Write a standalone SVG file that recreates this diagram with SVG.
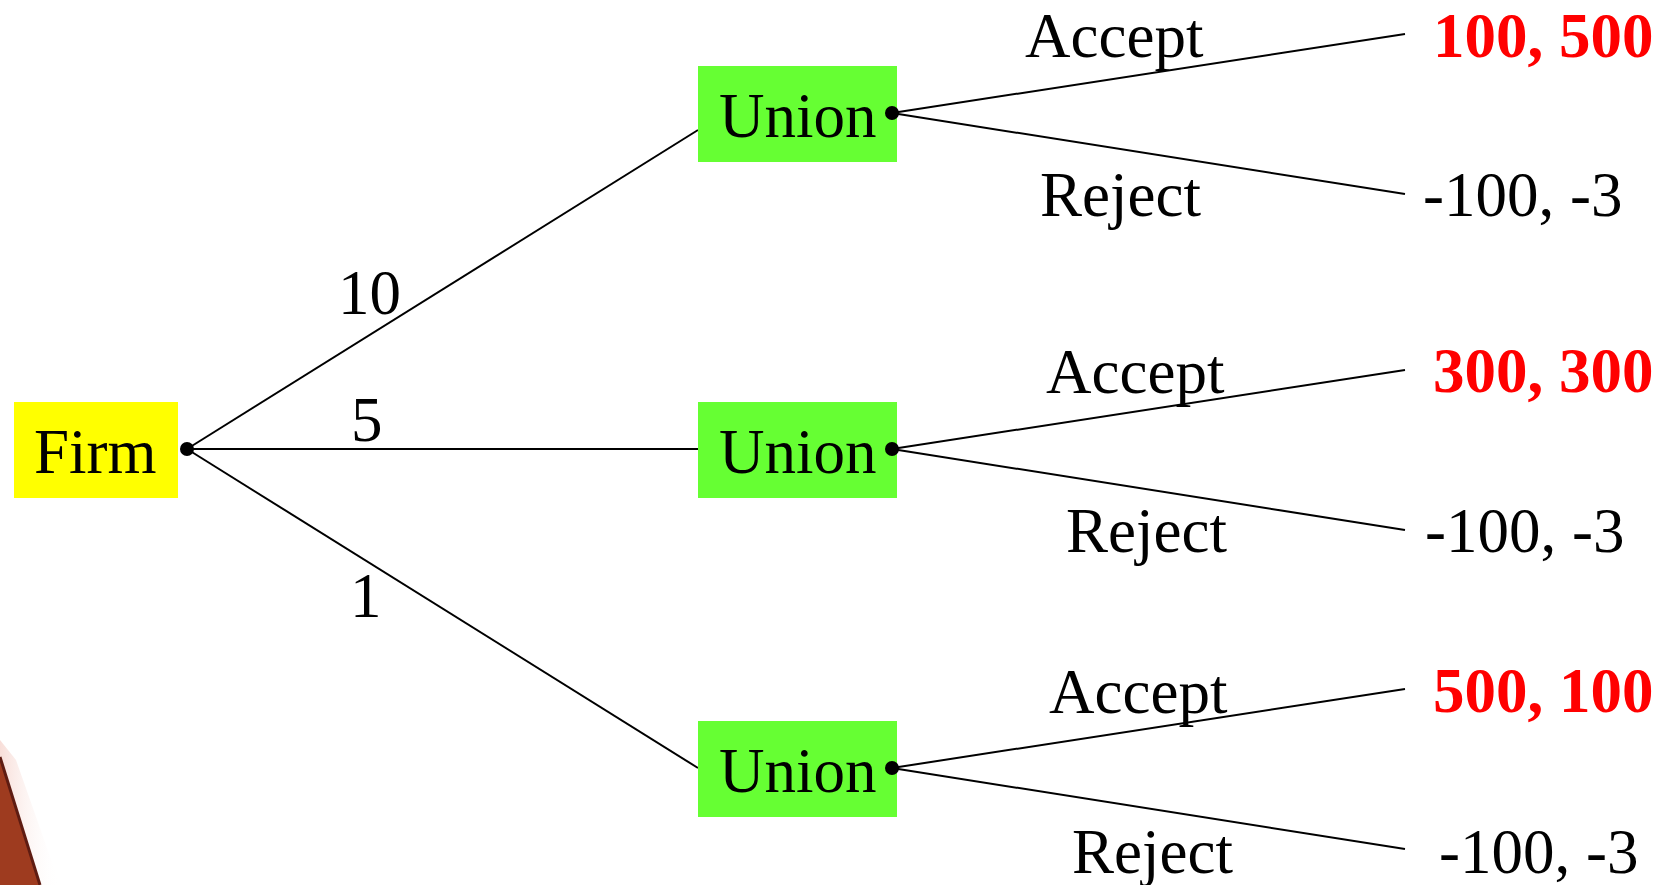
<svg xmlns="http://www.w3.org/2000/svg" width="1671" height="885" viewBox="0 0 1671 885">
  <style>
    .t { font-family: "Liberation Serif", "Times New Roman", serif; font-size: 63px; fill: #000; }
    .pay { font-family: "Liberation Serif", "Times New Roman", serif; font-size: 63px; font-weight: bold; fill: #ff0000; }
    .edge { stroke: #000; stroke-width: 2; fill: none; }
    .dot { fill: #000; }
    .firm { fill: #ffff00; }
    .union { fill: #66ff33; }
  </style>
  <defs>
    <linearGradient id="halo" x1="0" y1="0" x2="1" y2="0">
      <stop offset="0" stop-color="#f6d6cf" stop-opacity="0.8"/>
      <stop offset="1" stop-color="#ffffff" stop-opacity="0"/>
    </linearGradient>
  </defs>

  <rect width="1671" height="885" fill="#ffffff"/>

  <!-- corner fragment, bottom left -->
  <g id="corner">
    <polygon points="0,740 16,760 60,885 0,885" fill="url(#halo)"/>
    <polygon points="0,757 40,885 0,885" fill="#9e3b1f"/>
    <polyline points="0,757 40,885" stroke="#5e1c12" stroke-width="3" fill="none"/>
  </g>

  <!-- connectors -->
  <g id="connectors">
    <line class="edge" x1="187" y1="449" x2="698" y2="130"/>
    <line class="edge" x1="187" y1="449" x2="698" y2="449"/>
    <line class="edge" x1="187" y1="449" x2="698" y2="768"/>

    <line class="edge" x1="892" y1="113" x2="1405" y2="34"/>
    <line class="edge" x1="892" y1="113" x2="1405" y2="194"/>
    <line class="edge" x1="892" y1="449" x2="1405" y2="370"/>
    <line class="edge" x1="892" y1="449" x2="1405" y2="530"/>
    <line class="edge" x1="892" y1="768" x2="1405" y2="689"/>
    <line class="edge" x1="892" y1="768" x2="1405" y2="849"/>

    <text class="t" x="338" y="314">10</text>
    <text class="t" x="351" y="441">5</text>
    <text class="t" x="350" y="617">1</text>

    <text class="t" x="1025" y="57">Accept</text>
    <text class="t" x="1040" y="216">Reject</text>
    <text class="t" x="1046" y="393">Accept</text>
    <text class="t" x="1066" y="552">Reject</text>
    <text class="t" x="1049" y="713">Accept</text>
    <text class="t" x="1072" y="873">Reject</text>
  </g>

  <!-- decision nodes -->
  <g id="firm">
    <rect class="firm" x="14" y="402" width="164" height="96"/>
    <text class="t" x="34" y="473">Firm</text>
    <circle class="dot" cx="187" cy="449" r="7"/>
  </g>

  <g id="union-high">
    <rect class="union" x="698" y="66" width="199" height="96"/>
    <text class="t" x="719" y="137">Union</text>
    <circle class="dot" cx="892" cy="113" r="7"/>
  </g>

  <g id="union-mid">
    <rect class="union" x="698" y="402" width="199" height="96"/>
    <text class="t" x="719" y="473">Union</text>
    <circle class="dot" cx="892" cy="449" r="7"/>
  </g>

  <g id="union-low">
    <rect class="union" x="698" y="721" width="199" height="96"/>
    <text class="t" x="719" y="792">Union</text>
    <circle class="dot" cx="892" cy="768" r="7"/>
  </g>

  <!-- payoffs -->
  <g id="payoffs">
    <text class="pay" x="1433" y="57">100, 500</text>
    <text class="t" x="1423" y="216">-100, -3</text>
    <text class="pay" x="1433" y="392">300, 300</text>
    <text class="t" x="1425" y="552">-100, -3</text>
    <text class="pay" x="1433" y="712">500, 100</text>
    <text class="t" x="1439" y="873">-100, -3</text>
  </g>
</svg>
